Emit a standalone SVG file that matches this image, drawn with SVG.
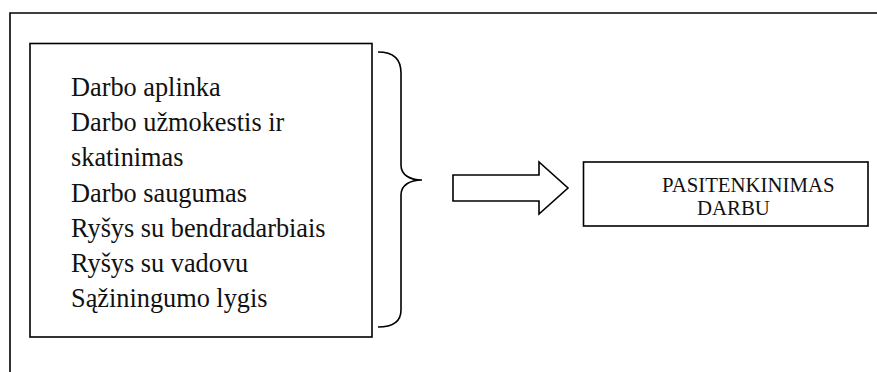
<svg xmlns="http://www.w3.org/2000/svg" width="877" height="372" viewBox="0 0 877 372">
  <style>
    .line { fill: none; stroke: #000; stroke-width: 1.6; }
    .box { fill: #fff; stroke: #000; stroke-width: 1.6; }
    .item { font-family: "Liberation Serif", "Times New Roman", serif; font-size: 26.3px; fill: #111; }
    .result { font-family: "Liberation Serif", "Times New Roman", serif; font-size: 20.8px; fill: #111; }
  </style>
  <rect width="877" height="372" fill="#fff"/>

  <!-- outer frame (continues past the right and bottom edges) -->
  <path class="line" d="M10,380 L10,13 L890,13"/>

  <g id="factors">
    <rect class="box" x="30" y="43.5" width="342" height="293.5"/>
    <text class="item" x="71" y="96">Darbo aplinka</text>
    <text class="item" x="71" y="131.2">Darbo užmokestis ir</text>
    <text class="item" x="71" y="166.4">skatinimas</text>
    <text class="item" x="71" y="201.6">Darbo saugumas</text>
    <text class="item" x="71" y="236.8">Ryšys su bendradarbiais</text>
    <text class="item" x="71" y="272">Ryšys su vadovu</text>
    <text class="item" x="71" y="307.2">Sąžiningumo lygis</text>
  </g>

  <g id="connectors">
    <!-- curly brace grouping the factors -->
    <path class="line" d="M378,52 C393,52 401,58 401,73 L401,165 C401,175 410,180 422,180 C410,180 401,185 401,195 L401,310 C401,321 393,327 378,327"/>
    <!-- block arrow -->
    <path class="box" d="M453,175 L539,175 L539,162 L568,188 L539,214 L539,201 L453,201 Z"/>
  </g>

  <g id="satisfaction">
    <rect class="box" x="583.5" y="162" width="284.5" height="64"/>
    <text class="result" x="662" y="192">PASITENKINIMAS</text>
    <text class="result" x="697" y="215">DARBU</text>
  </g>
</svg>
